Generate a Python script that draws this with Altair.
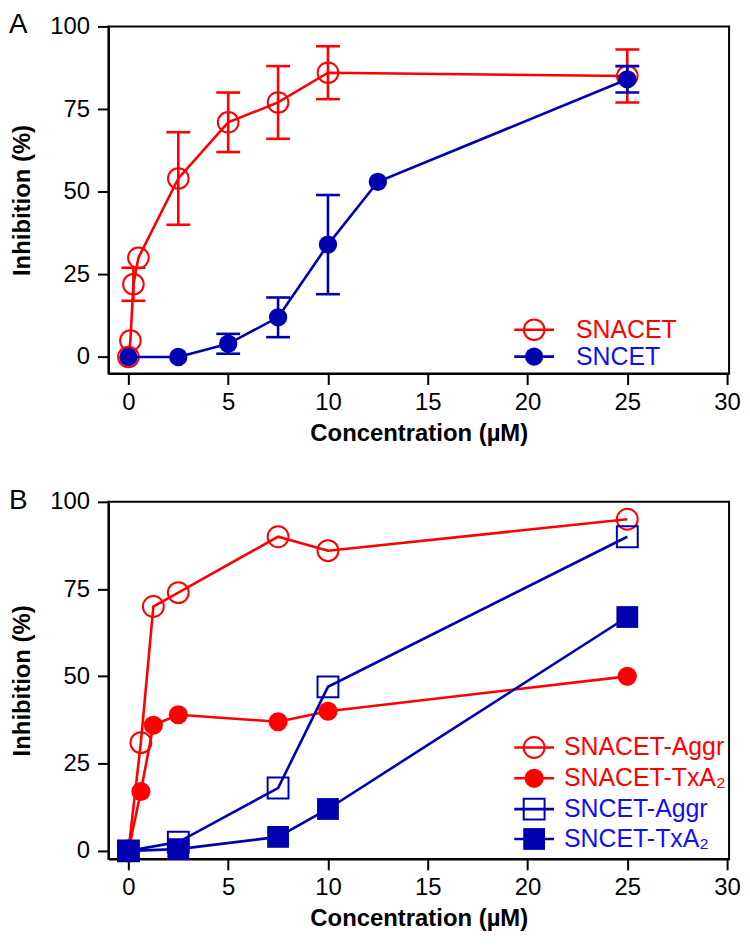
import altair as alt
import pandas as pd

FONT = "Liberation Sans"
RED = "#FF0000"
BLUE = "#0000B0"
BLUE_TXT = "#1010F0"

# ---------------- Panel A data ----------------
a_conc_snacet = [0, 0.1, 0.25, 0.5, 2.5, 5, 7.5, 10, 25]
a_inh_snacet = [0, 5, 22, 30, 54, 71, 77, 86, 85]
a_err_lo_snacet = [None, None, 17, None, 40, 62, 66, 78, 77]
a_err_hi_snacet = [None, None, 27, None, 68, 80, 88, 94, 93]

a_conc_sncet = [0, 2.5, 5, 7.5, 10, 12.5, 25]
a_inh_sncet = [0, 0, 4, 12, 34, 53, 84]
a_err_lo_sncet = [None, None, 1, 6, 19, None, 80]
a_err_hi_sncet = [None, None, 7, 18, 49, None, 88]

# ---------------- Panel B data ----------------
b_conc_snacet_aggr = [0, 0.625, 1.25, 2.5, 7.5, 10, 25]
b_inh_snacet_aggr = [0, 31, 70, 74, 90, 86, 95]
b_conc_snacet_txa2 = [0, 0.625, 1.25, 2.5, 7.5, 10, 25]
b_inh_snacet_txa2 = [0, 17, 36, 39, 37, 40, 50]
b_conc_sncet_aggr = [0, 2.5, 7.5, 10, 25]
b_inh_sncet_aggr = [0, 2.5, 18, 47, 90]
b_conc_sncet_txa2 = [0, 2.5, 7.5, 10, 25]
b_inh_sncet_txa2 = [0, 0.5, 4, 12, 67]

x_ticks = [0, 5, 10, 15, 20, 25, 30]
y_ticks = [0, 25, 50, 75, 100]

legend_a_labels = ["SNACET", "SNCET"]
legend_b_labels = ["SNACET-Aggr", "SNACET-TxA₂", "SNCET-Aggr", "SNCET-TxA₂"]

W = 624
LEG_SYM_X = 428
LEG_TXT_A = 470
LEG_TXT_B = 458


def xenc():
    return alt.X("conc:Q",
                 scale=alt.Scale(domain=[-1, 30.1], nice=False, zero=False),
                 axis=alt.Axis(values=x_ticks, title="Concentration (µM)", format="d"))


def yenc(ymin, field="inh"):
    return alt.Y(f"{field}:Q",
                 scale=alt.Scale(domain=[ymin, 100], nice=False, zero=False),
                 axis=alt.Axis(values=y_ticks, title="Inhibition (%)", format="d"))


def series(conc, inh, color, shape, filled, size, ymin, lo=None, hi=None):
    df = pd.DataFrame({"conc": conc, "inh": inh})
    layers = [
        alt.Chart(df).mark_line(color=color, strokeWidth=2.6).encode(x=xenc(), y=yenc(ymin))
    ]
    if lo is not None:
        edf = pd.DataFrame({"conc": conc, "lo": lo, "hi": hi}).dropna()
        eb = alt.Chart(edf)
        layers.append(eb.mark_rule(color=color, strokeWidth=2.6).encode(
            x=xenc(), y=yenc(ymin, "lo"), y2="hi:Q"))
        for f in ["lo", "hi"]:
            layers.append(eb.mark_tick(color=color, orient="horizontal", size=24, thickness=2.6,
                                       opacity=1).encode(x=xenc(), y=yenc(ymin, f)))
    if filled:
        pt = alt.Chart(df).mark_point(shape=shape, filled=True, size=size, color=color,
                                      opacity=1).encode(x=xenc(), y=yenc(ymin))
    else:
        pt = alt.Chart(df).mark_point(shape=shape, filled=False, size=size, color=color,
                                      strokeWidth=2, opacity=1).encode(x=xenc(), y=yenc(ymin))
    layers.append(pt)
    return layers


def legend_entry(label, color, txtcolor, shape, filled, size, lx, ly, tx):
    d = pd.DataFrame({"label": [label]})
    c = alt.Chart(d)
    rule = c.mark_rule(color=color, strokeWidth=2.6).encode(
        x=alt.value(lx - 20), x2=alt.value(lx + 20), y=alt.value(ly))
    if filled:
        pt = c.mark_point(shape=shape, filled=True, size=size, color=color, opacity=1).encode(
            x=alt.value(lx), y=alt.value(ly))
    else:
        pt = c.mark_point(shape=shape, filled=False, size=size, color=color, strokeWidth=2,
                          opacity=1).encode(x=alt.value(lx), y=alt.value(ly))
    txt = c.mark_text(align="left", baseline="middle", fontSize=25, font=FONT,
                      color=txtcolor).encode(x=alt.value(tx), y=alt.value(ly), text="label:N")
    return [rule, pt, txt]


def panel_letter(letter):
    d = pd.DataFrame({"t": [letter]})
    return alt.Chart(d).mark_text(align="left", baseline="top", fontSize=28, font=FONT,
                                  color="black").encode(x=alt.value(-100), y=alt.value(-15), text="t:N")


# ---------------- Panel A ----------------
ya = -5
layers_a = []
layers_a += series(a_conc_snacet, a_inh_snacet, RED, "circle", False, 430, ya,
                   a_err_lo_snacet, a_err_hi_snacet)
layers_a += series(a_conc_sncet, a_inh_sncet, BLUE, "circle", True, 340, ya,
                   a_err_lo_sncet, a_err_hi_sncet)
layers_a += legend_entry(legend_a_labels[0], RED, RED, "circle", False, 430, LEG_SYM_X, 305, LEG_TXT_A)
layers_a += legend_entry(legend_a_labels[1], BLUE, BLUE_TXT, "circle", True, 340, LEG_SYM_X, 332, LEG_TXT_A)
layers_a.append(panel_letter("A"))
panel_a = alt.layer(*layers_a).properties(width=W, height=349)

# ---------------- Panel B ----------------
yb = -2.3
layers_b = []
layers_b += series(b_conc_snacet_aggr, b_inh_snacet_aggr, RED, "circle", False, 440, yb)
layers_b += series(b_conc_snacet_txa2, b_inh_snacet_txa2, RED, "circle", True, 370, yb)
layers_b += series(b_conc_sncet_aggr, b_inh_sncet_aggr, BLUE, "square", False, 440, yb)
layers_b += series(b_conc_sncet_txa2, b_inh_sncet_txa2, BLUE, "square", True, 480, yb)
leg_rows = [247, 278, 309, 339]
leg_specs = [(RED, RED, "circle", False, 440), (RED, RED, "circle", True, 370),
             (BLUE, BLUE_TXT, "square", False, 440), (BLUE, BLUE_TXT, "square", True, 480)]
for lbl, ry, (col, tcol, shp, fil, sz) in zip(legend_b_labels, leg_rows, leg_specs):
    layers_b += legend_entry(lbl, col, tcol, shp, fil, sz, LEG_SYM_X, ry, LEG_TXT_B)
layers_b.append(panel_letter("B"))
panel_b = alt.layer(*layers_b).properties(width=W, height=359)

chart = alt.vconcat(panel_a, panel_b, spacing=40).properties(
    padding={"left": 0, "top": 0, "right": 0, "bottom": 0},
    background="white"
).configure_view(
    stroke="black", strokeWidth=2
).configure_axis(
    grid=False, domainColor="black", domainWidth=2, tickColor="black", tickWidth=2,
    tickSize=11, labelFont=FONT, labelFontSize=24, labelColor="black", labelPadding=8,
    titleFont=FONT, titleFontSize=24, titleFontWeight="bold", titleColor="black"
).configure_axisY(
    titlePadding=15, labelPadding=8
).configure_axisX(
    titlePadding=7, labelPadding=6
)

chart.save("out.html", embed_options={"renderer": "svg", "actions": False})
